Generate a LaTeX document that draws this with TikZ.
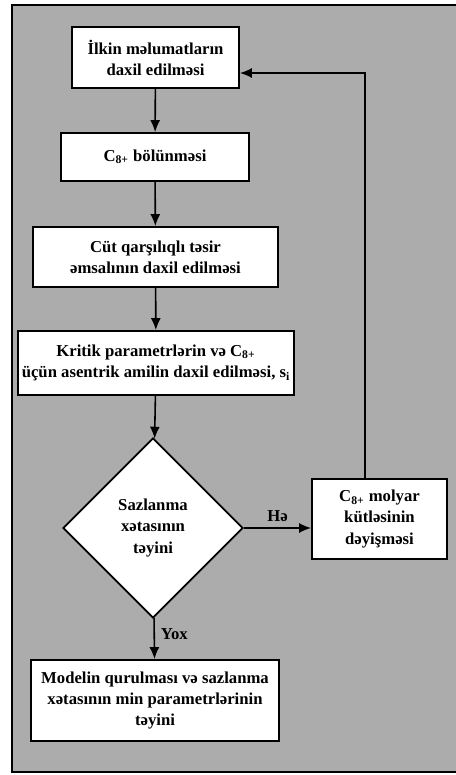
\documentclass[tikz,border=0pt]{standalone}
\usepackage{fontspec}
\setmainfont{Liberation Serif}
\usetikzlibrary{shapes.geometric,arrows.meta}
\definecolor{scangray}{RGB}{172,172,172}

\begin{document}
\begin{tikzpicture}[x=0.02cm,y=-0.02cm,
        font=\fontsize{9.5}{12}\selectfont\bfseries,
        box/.style={draw,line width=1pt,fill=white,align=center,inner sep=2pt},
        choice/.style={draw,line width=1pt,fill=white,diamond,aspect=1,align=center,inner sep=0pt,minimum size=3.6cm},
        flow/.style={line width=0.9pt,-{Latex[length=2.4mm,width=2mm]}}]
        \useasboundingbox (0,0) rectangle (456,775);
        \filldraw[fill=scangray,line width=1.2pt] (12,5) rectangle (462,772);
        \node[box,minimum width=3.34cm,minimum height=1.22cm](input) at (155.5,57.5) {İlkin məlumatların\\daxil edilməsi};
        \node[box,minimum width=3.76cm,minimum height=0.96cm](split) at (155,157) {C\textsubscript{8+} bölünməsi};
        \node[box,minimum width=4.9cm,minimum height=1.2cm](pair) at (155.5,257) {Cüt qarşılıqlı təsir\\əmsalının daxil edilməsi};
        \node[box,minimum width=5.28cm,minimum height=1.28cm](crit) at (156,363) {Kritik parametrlərin və C\textsubscript{8+}\\üçün asentrik amilin daxil edilməsi, s\textsubscript{i}};
        \node[choice](err) at (153,528) {Sazlanma\\xətasının\\təyini};
        \node[box,minimum width=2.7cm,minimum height=1.6cm](mass) at (379.5,519) {C\textsubscript{8+} molyar\\kütləsinin\\dəyişməsi};
        \node[box,minimum width=4.96cm,minimum height=1.62cm](model) at (155,700.5) {Modelin qurulması və sazlanma\\xətasının min parametrlərinin\\təyini};
        \coordinate(turn) at (365,73);
        \draw[flow](input)--(split);
        \draw[flow](split)--(pair);
        \draw[flow](pair)--(crit);
        \draw[flow](crit)--(err);
        \draw[flow](err.east)--node[above]{Hə}(err.east-|mass.west);
        \draw[flow](err)--node[right,pos=0.4]{Yox}(model);
        \draw[flow](mass.north-|turn)--(turn)--(turn-|input.east);
        \end{tikzpicture}
\end{document}
